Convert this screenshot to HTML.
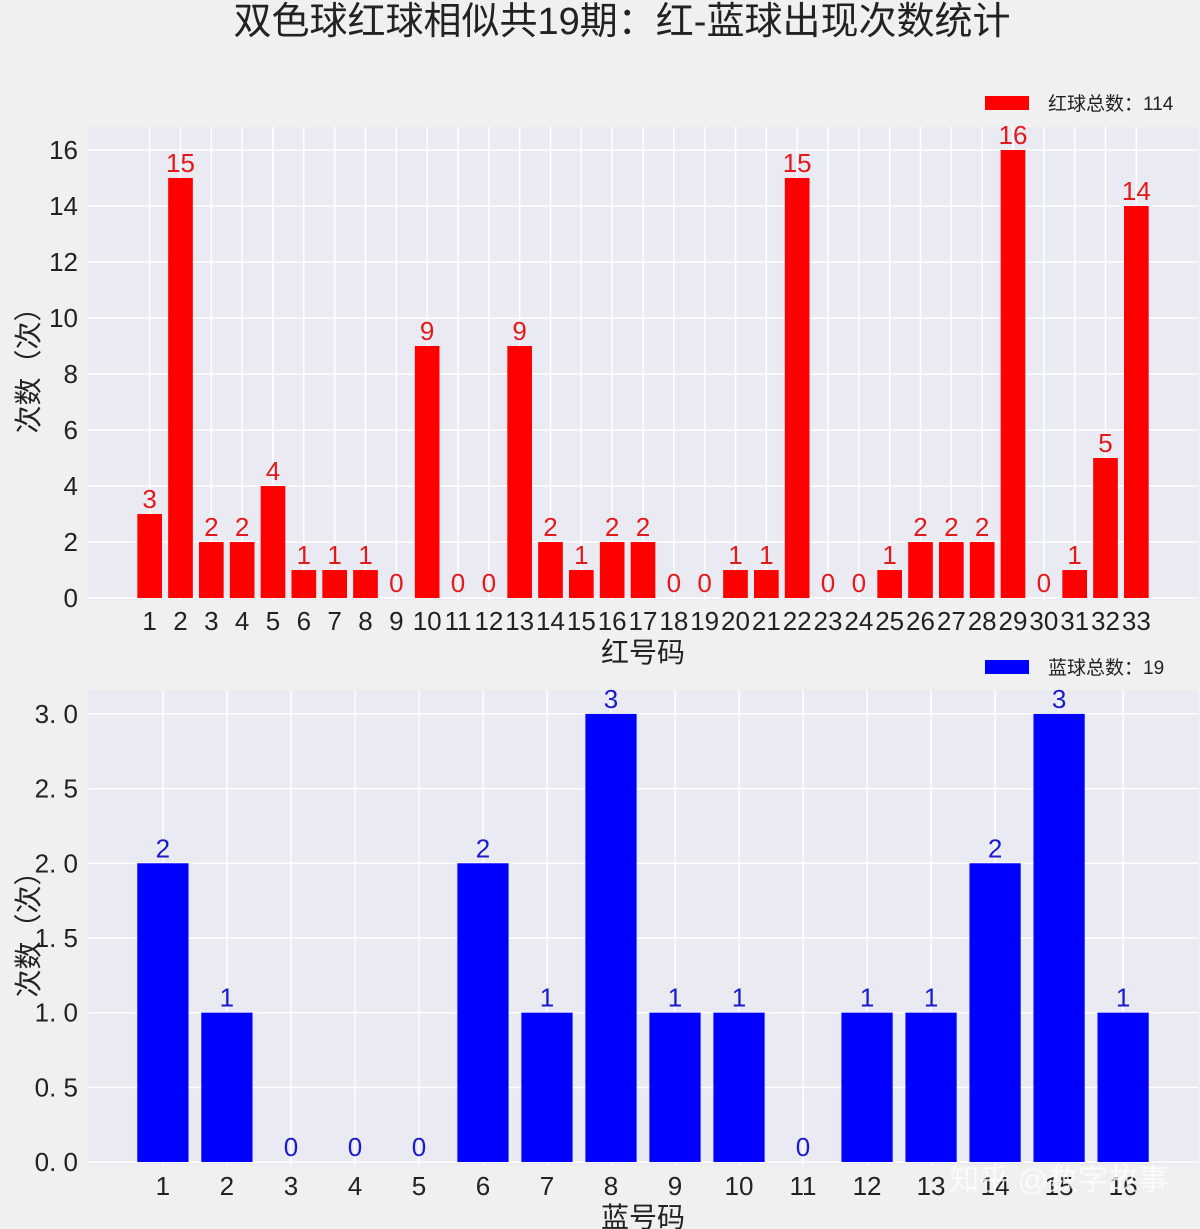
<!DOCTYPE html>
<html><head><meta charset="utf-8"><style>
body{margin:0;background:#f0f0f0}
svg{display:block;font-family:"Liberation Sans","Noto Sans CJK SC",sans-serif}
</style></head><body>
<svg id="c" width="1200" height="1229" xmlns="http://www.w3.org/2000/svg">
<rect width="1200" height="1229" fill="#f0f0f0"/>
<text x="622" y="34" font-size="38" text-anchor="middle" fill="#222">双色球红球相似共19期：红-蓝球出现次数统计</text>
<g id="top"></g>
<g id="bot"></g>
<text x="1168" y="1190" font-size="30" text-anchor="end" fill="#ffffff" fill-opacity="0.75">知乎 @数字故事</text>
</svg>
<script>
const redCats=[1,2,3,4,5,6,7,8,9,10,11,12,13,14,15,16,17,18,19,20,21,22,23,24,25,26,27,28,29,30,31,32,33];
const redVals=[3,15,2,2,4,1,1,1,0,9,0,0,9,2,1,2,2,0,0,1,1,15,0,0,1,2,2,2,16,0,1,5,14];
const redTicks=[0,2,4,6,8,10,12,14,16];
const blueCats=[1,2,3,4,5,6,7,8,9,10,11,12,13,14,15,16];
const blueVals=[2,1,0,0,0,2,1,3,1,1,0,1,1,2,3,1];
const blueTicks=[0,0.5,1.0,1.5,2.0,2.5,3.0];
const NS="http://www.w3.org/2000/svg";
function mk(p,t,a,txt){const e=document.createElementNS(NS,t);for(const k in a)e.setAttribute(k,a[k]);if(txt!==undefined)e.textContent=txt;p.appendChild(e);return e;}
function chart(g,o){
  const x=v=>o.L+(v-o.x0)/(o.x1-o.x0)*(o.R-o.L);
  const y=v=>o.B-(v-o.y0)/(o.y1-o.y0)*(o.B-o.T);
  const bg=mk(g,'rect',{x:o.L,y:o.T,width:o.R-o.L,height:o.B-o.T,fill:'#eaeaf2'});
  
  o.ticks.forEach(t=>{const l=mk(g,'line',{x1:o.L,x2:o.R,y1:y(t),y2:y(t),stroke:'#fff','stroke-width':1.5});
    
    const tx=mk(g,'text',{x:o.L-10,y:y(t)+9,'font-size':26,'text-anchor':'end',fill:'#222'},o.fmt(t));
    });
  o.cats.forEach((c,i)=>{const l=mk(g,'line',{x1:x(c),x2:x(c),y1:o.T,y2:o.B,stroke:'#fff','stroke-width':1.5});
    });
  o.cats.forEach((c,i)=>{const v=o.vals[i];const w=0.8*(x(1)-x(0));
    const r=mk(g,'rect',{x:x(c)-w/2,y:y(v),width:w,height:y(0)-y(v),fill:o.color});
    
    const t=mk(g,'text',{x:x(c),y:y(v)-6,'font-size':26,'text-anchor':'middle',fill:o.lab},String(v));
    
    const xt=mk(g,'text',{x:x(c),y:o.B+30,'font-size':26,'text-anchor':'middle',fill:'#222'},String(c));
    });
  const xl=mk(g,'text',{x:(o.L+o.R)/2,y:o.B+62,'font-size':28,'text-anchor':'middle',fill:'#222'},o.xlabel);
  
  const yl=mk(g,'text',{x:0,y:0,'font-size':28,'text-anchor':'middle',fill:'#222',transform:`translate(38,${(o.T+o.B)/2}) rotate(-90)`},'次数（次）');
  
  const lr=mk(g,'rect',{x:985,y:o.legY,width:44,height:14,fill:o.color});
  
  const lt=mk(g,'text',{x:1048,y:o.legY+14,'font-size':19,fill:'#222'},o.legend);
  
}
chart(document.getElementById('top'),{L:88,R:1198,T:127,B:600,x0:-1,x1:35,y0:-0.07,y1:16.82,cats:redCats,vals:redVals,ticks:redTicks,fmt:t=>String(t),color:'#ff0000',lab:'#e31a1c',xlabel:'红号码',legend:'红球总数：114',legY:96});
chart(document.getElementById('bot'),{L:88,R:1198,T:690,B:1165,x0:-0.17,x1:17.17,y0:-0.02,y1:3.16,cats:blueCats,vals:blueVals,ticks:blueTicks,fmt:t=>t.toFixed(1).replace('.','. '),color:'#0000ff',lab:'#1a1acc',xlabel:'蓝号码',legend:'蓝球总数：19',legY:660});
</script>
</body></html>
